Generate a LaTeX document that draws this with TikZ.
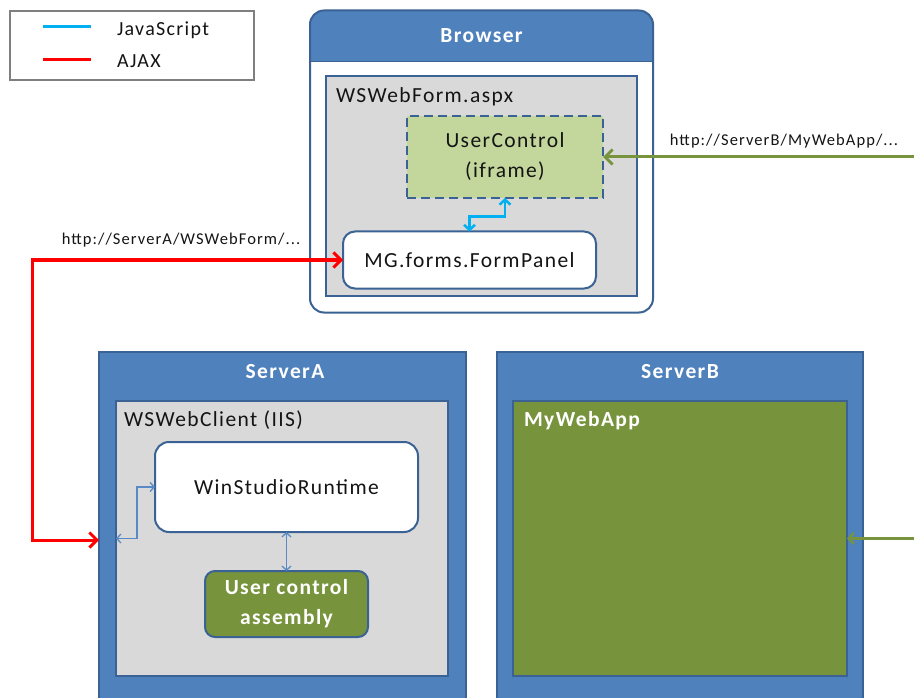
\documentclass[tikz,border=0pt]{standalone}
\usepackage{fontspec}
\setmainfont{Carlito}[LetterSpace=6.5]
\usetikzlibrary{arrows.meta,calc}
\definecolor{hdr}{HTML}{4F81BD}
\definecolor{bord}{HTML}{3A6294}
\definecolor{gry}{HTML}{D9D9D9}
\definecolor{lgreen}{HTML}{C3D69B}
\definecolor{dgreen}{HTML}{77933C}
\definecolor{jsblue}{HTML}{00B0F0}
\definecolor{thinblue}{HTML}{5A8AC6}
\definecolor{txt}{HTML}{141414}
\definecolor{leggray}{HTML}{7F7F7F}
\begin{document}
\begin{tikzpicture}[x=1pt,y=-1pt,
  every node/.style={inner sep=0pt, outer sep=0pt, text=txt, font=\fontsize{21.5}{30}\selectfont},
  graybox/.style={draw=bord, line width=2pt, fill=gry},
  whitebox/.style={draw=bord, line width=2pt, fill=white, rounded corners=12pt},
  serverbox/.style={draw=bord, line width=1.5pt, fill=hdr},
  hdrtext/.style={text=white, font=\fontsize{21.5}{24}\selectfont\bfseries},
  urltext/.style={font=\fontsize{16.5}{18}\selectfont},
  js/.style={jsblue, line width=2.5pt, {Straight Barb[length=5pt,width=11pt]}-{Straight Barb[length=5pt,width=11pt]}},
  ajax/.style={red, line width=3pt, {Straight Barb[length=7.5pt,width=15pt]}-{Straight Barb[length=7.5pt,width=15pt]}},
  greenarr/.style={dgreen, line width=3pt, -{Straight Barb[length=7.5pt,width=15pt]}},
  thinarr/.style={thinblue, line width=1.3pt, {Straight Barb[length=4pt,width=9pt]}-{Straight Barb[length=4pt,width=9pt]}}
]
\useasboundingbox (0,0) rectangle (914,698);
\clip (0,0) rectangle (914,698);

% legend
\node[draw=leggray, line width=1.5pt, minimum width=244pt, minimum height=69pt] (leg) at (132,45.5) {};
\draw[jsblue, line width=3pt] ($(leg.north west)+(33,16)$) -- ($(leg.north west)+(81,16)$);
\draw[red, line width=3pt] ($(leg.north west)+(33,49)$) -- ($(leg.north west)+(81,49)$);
\node[anchor=west, font=\fontsize{20}{22}\selectfont] (legjs) at (117,30) {JavaScript};
\node[anchor=west, font=\fontsize{20}{22}\selectfont] (legaj) at (117,61) {AJAX};

% browser
\node[fill=white, rounded corners=14pt, minimum width=343pt, minimum height=302pt] (br) at (481.5,161.5) {};
\fill[hdr] ([yshift=-51pt]br.north west) [rounded corners=14pt] -- (br.north west) -- (br.north east) [sharp corners] -- ([yshift=-51pt]br.north east) -- cycle;
\draw[bord, line width=1.2pt] ([yshift=-51pt]br.north west) -- ([yshift=-51pt]br.north east);
\draw[bord, line width=2pt, rounded corners=14pt] (br.north west) rectangle (br.south east);
\node[hdrtext] (brl) at (481.5,36) {Browser};

\node[graybox, minimum width=311pt, minimum height=220pt] (wf) at (481.5,186) {};
\node[anchor=west] (wfl) at (336,97) {WSWebForm.aspx};
\node[draw=bord, dashed, dash pattern=on 9pt off 5pt, line width=2.5pt, fill=lgreen, minimum width=196pt, minimum height=82pt, align=center] (uc) at (505,157) {UserControl\\(iframe)};
\node[whitebox, minimum width=253pt, minimum height=57pt] (fp) at (469.5,260) {MG.forms.FormPanel};
\draw[js] (fp.north) -- ++(0,-15) -| (uc.south);

% ServerA
\node[serverbox, minimum width=367pt, minimum height=376pt] (sa) at (282.5,540) {};
\node[hdrtext] (sal) at (285,372) {ServerA};
\node[graybox, minimum width=332pt, minimum height=275pt] (wc) at (282,538.5) {};
\node[anchor=west] (wcl) at (124,420) {WSWebClient (IIS)};
\node[whitebox, rounded corners=14pt, minimum width=263pt, minimum height=90pt] (wr) at (286.5,487) {WinStudioRuntime};
\node[whitebox, fill=dgreen, rounded corners=10pt, minimum width=163pt, minimum height=66pt, align=center, text=white, font=\fontsize{21.5}{30}\selectfont\bfseries] (uca) at (286.5,604) {User control\\assembly};
\draw[thinarr] (wr.south) -- (uca.north);
\draw[thinarr] (wc.west) -- ++(21,0) |- (wr.west);

% ServerB
\node[serverbox, minimum width=366pt, minimum height=376pt] (sb) at (680,540) {};
\node[hdrtext] (sbl) at (680,372) {ServerB};
\node[draw=bord, line width=1.5pt, fill=dgreen, minimum width=334pt, minimum height=275pt] (mwa) at (680,538.5) {};
\node[anchor=west, text=white, font=\fontsize{21.5}{24}\selectfont\bfseries] (mwal) at (524,421) {MyWebApp};

% connectors
\coordinate (r1) at (32,260);
\coordinate (r2) at (32,540);
\draw[ajax] (fp.west) -- (r1) -- (r2) -- (sa.west);
\node[urltext] (ua) at (181,240) {http://ServerA/WSWebForm/...};

\coordinate (g1) at (916,157);
\draw[greenarr] (g1) -- (uc.east);
\node[urltext] (ub) at (784,141) {http://ServerB/MyWebApp/...};

\coordinate (g2) at (916,538.5);
\draw[greenarr, line width=2.5pt, -{Straight Barb[length=5pt,width=11pt]}] (g2) -- (mwa.east);
\end{tikzpicture}
\end{document}
